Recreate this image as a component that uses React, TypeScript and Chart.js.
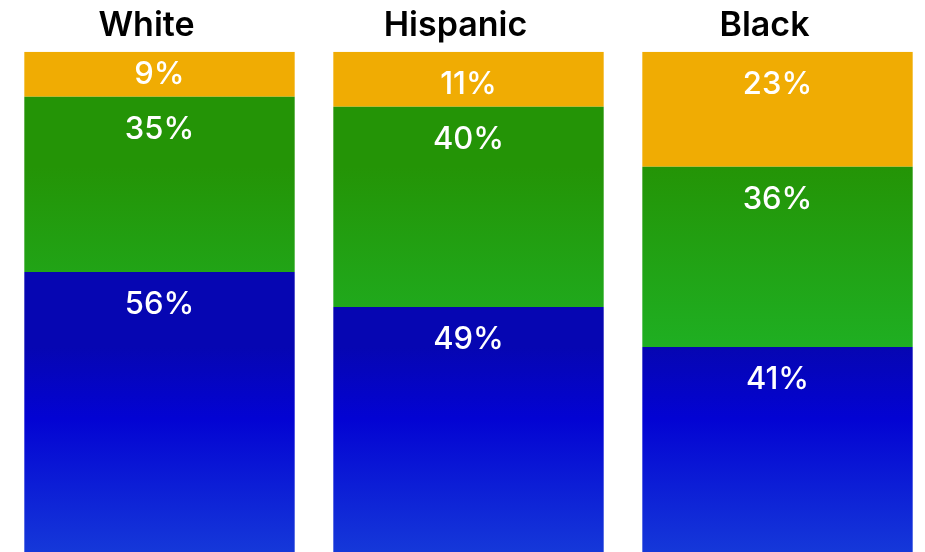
import React, { useEffect, useRef } from "react";
import { Chart, registerables } from "chart.js";

Chart.register(...registerables);

const categories = ["White", "Hispanic", "Black"];
const bottomValues = [56, 49, 41];
const middleValues = [35, 40, 36];
const topValues = [9, 11, 23];

const gradientStops: Record<string, [number, string][]> = {
  blue: [
    [0, "#0606B2"],
    [0.35, "#0303D3"],
    [1, "#1538D9"],
  ],
  green: [
    [0, "#249406"],
    [1, "#1FAF22"],
  ],
  orange: [
    [0, "#F0AC03"],
    [1, "#F0AC03"],
  ],
};

const gradientPlugin = {
  id: "segmentGradient",
  beforeDatasetsDraw(chart: any) {
    const ctx = chart.ctx;
    chart.data.datasets.forEach((ds: any, di: number) => {
      const meta = chart.getDatasetMeta(di);
      const stops = gradientStops[ds.gradientKey];
      meta.data.forEach((el: any) => {
        const top = Math.min(el.y, el.base);
        const bottom = Math.max(el.y, el.base);
        const g = ctx.createLinearGradient(0, top, 0, bottom);
        stops.forEach(([o, c]) => g.addColorStop(o, c));
        el.options.backgroundColor = g;
      });
    });
  },
};

const labelPlugin = {
  id: "segmentLabels",
  afterDatasetsDraw(chart: any) {
    const ctx = chart.ctx;
    ctx.save();
    ctx.fillStyle = "#ffffff";
    ctx.font = "500 31px Inter, 'Noto Sans', sans-serif";
    ctx.textAlign = "center";
    ctx.textBaseline = "middle";
    chart.data.datasets.forEach((ds: any, di: number) => {
      const meta = chart.getDatasetMeta(di);
      meta.data.forEach((el: any, i: number) => {
        const top = Math.min(el.y, el.base);
        const bottom = Math.max(el.y, el.base);
        const h = bottom - top;
        const y = top + Math.min(33, h - 22);
        ctx.fillText(ds.data[i] + "%", el.x, y);
      });
    });
    ctx.restore();
  },
};

export default function App() {
  const ref = useRef<HTMLCanvasElement>(null);
  useEffect(() => {
    document.body.style.margin = "0";
    const canvas = ref.current!;
    const chart = new Chart(canvas, {
      type: "bar",
      data: {
        labels: categories,
        datasets: [
          { label: "bottom", data: bottomValues, gradientKey: "blue", backgroundColor: "#0303D3" } as any,
          { label: "middle", data: middleValues, gradientKey: "green", backgroundColor: "#229F12" } as any,
          { label: "top", data: topValues, gradientKey: "orange", backgroundColor: "#F0AC03" } as any,
        ],
      },
      options: {
        responsive: false,
        animation: false,
        devicePixelRatio: 1,
        layout: { padding: { top: -1, left: 5, right: 0, bottom: 0 } },
        datasets: { bar: { barPercentage: 0.875, categoryPercentage: 1, borderWidth: 0 } },
        plugins: { legend: { display: false }, tooltip: { enabled: false }, title: { display: false } },
        scales: {
          x: {
            stacked: true,
            position: "top",
            grid: { display: false, drawTicks: false },
            border: { display: false },
            ticks: {
              color: "#000000",
              padding: 6,
              labelOffset: -13,
              maxRotation: 0,
              font: { family: "Inter, 'Noto Sans', sans-serif", size: 34, weight: "600" as any, lineHeight: 1.2 },
            },
          },
          y: {
            stacked: true,
            display: false,
            min: 0,
            max: 100,
          },
        },
      },
      plugins: [gradientPlugin, labelPlugin],
    });
    return () => chart.destroy();
  }, []);
  return (
    <canvas
      ref={ref}
      width={932}
      height={552}
      style={{ position: "fixed", left: 0, top: 0, width: 932, height: 552, display: "block" }}
    />
  );
}
